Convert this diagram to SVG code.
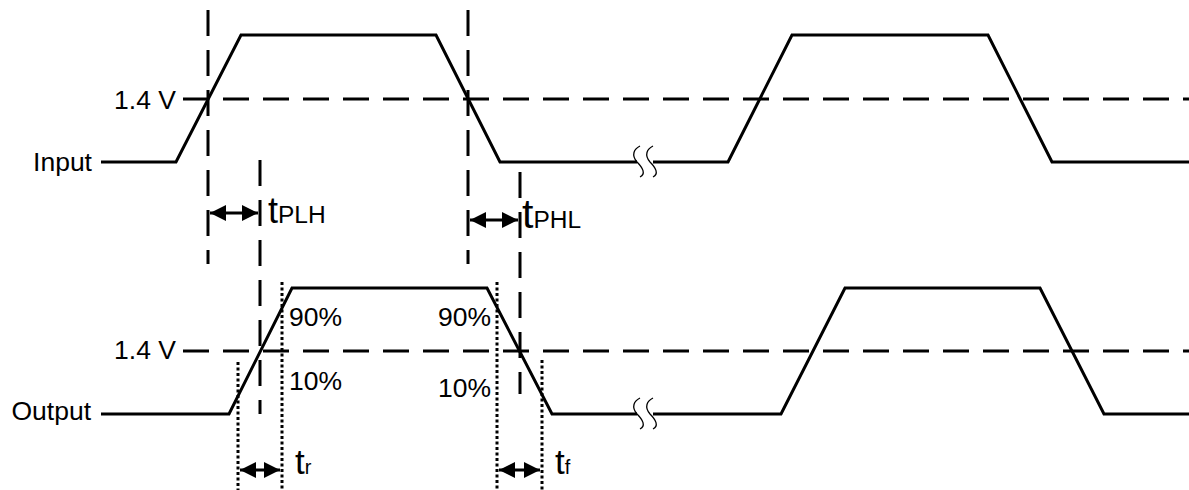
<svg xmlns="http://www.w3.org/2000/svg" width="1189" height="490" viewBox="0 0 1189 490">
  <style>
    .wave { fill: none; stroke: #000; stroke-width: 3; stroke-linejoin: miter; }
    .dash { fill: none; stroke: #000; stroke-width: 3; stroke-dasharray: 26 14; }
    .dot { fill: none; stroke: #000; stroke-width: 3; stroke-dasharray: 3 2.5; }
    .brk { fill: none; stroke: #000; stroke-width: 1.3; }
    .arr { fill: none; stroke: #000; stroke-width: 3; marker-start: url(#ah); marker-end: url(#ah); }
    text { font-family: "Liberation Sans", Arial, sans-serif; fill: #000; }
    .lbl { font-size: 26.5px; }
  </style>
  <defs>
    <marker id="ah" markerUnits="userSpaceOnUse" markerWidth="17" markerHeight="17" refX="16" refY="8" orient="auto-start-reverse">
      <path d="M0,0 L16,8 L0,16 z" fill="#000"/>
    </marker>
  </defs>
  <rect width="1189" height="490" fill="#fff"/>

  <g id="input-wave">
    <polyline class="wave" points="101,162 176,162 241,35 436,35 500,162 637,162"/>
    <polyline class="wave" points="653,162 728,162 792,35 988,35 1052,162 1189,162"/>
    <path class="brk" d="M640,146 C634,149 631,155 637,162 C643,168 646,174 640,177"/>
    <path class="brk" d="M653,146 C647,149 644,155 650,162 C656,168 659,174 653,177"/>
  </g>
  <g id="output-wave">
    <polyline class="wave" points="101,414 229,414 292,288 487,288 552,414 637,414"/>
    <polyline class="wave" points="653,414 781,414 845,288 1040,288 1104,414 1189,414"/>
    <path class="brk" d="M640,398 C634,401 631,407 637,414 C643,420 646,426 640,429"/>
    <path class="brk" d="M653,398 C647,401 644,407 650,414 C656,420 659,426 653,429"/>
  </g>

  <g id="reference-lines">
    <line class="dash" x1="183" y1="99" x2="1189" y2="99"/>
    <line class="dash" x1="183" y1="351" x2="1189" y2="351"/>
    <line class="dash" x1="208" y1="10" x2="208" y2="264"/>
    <line class="dash" x1="468" y1="10" x2="468" y2="264"/>
    <line class="dash" x1="260" y1="160" x2="260" y2="414"/>
    <line class="dash" x1="520" y1="172" x2="520" y2="394"/>
    <line class="dot" x1="238" y1="362" x2="238" y2="490"/>
    <line class="dot" x1="282" y1="282" x2="282" y2="490"/>
    <line class="dot" x1="497" y1="282" x2="497" y2="490"/>
    <line class="dot" x1="542" y1="360" x2="542" y2="490"/>
  </g>

  <g id="connectors">
    <line class="arr" x1="210" y1="213" x2="258" y2="213"/>
    <line class="arr" x1="470" y1="220" x2="518" y2="220"/>
    <line class="arr" x1="240" y1="470" x2="280" y2="470"/>
    <line class="arr" x1="499" y1="470" x2="540" y2="470"/>
  </g>

  <g id="labels">
    <text class="lbl" x="92" y="171" text-anchor="end">Input</text>
    <text class="lbl" x="176" y="109" text-anchor="end">1.4 V</text>
    <text class="lbl" x="91" y="420" text-anchor="end">Output</text>
    <text class="lbl" x="176" y="359" text-anchor="end">1.4 V</text>
    <text class="lbl" x="289" y="326">90%</text>
    <text class="lbl" x="289" y="390">10%</text>
    <text class="lbl" x="491" y="326" text-anchor="end">90%</text>
    <text class="lbl" x="491" y="397" text-anchor="end">10%</text>
    <text x="268" y="223"><tspan font-size="36">t</tspan><tspan font-size="24.5">PLH</tspan></text>
    <text x="522" y="228"><tspan font-size="41">t</tspan><tspan font-size="24.5">PHL</tspan></text>
    <text x="295" y="474"><tspan font-size="35">t</tspan><tspan font-size="20">r</tspan></text>
    <text x="555" y="474"><tspan font-size="35">t</tspan><tspan font-size="20">f</tspan></text>
  </g>
</svg>
